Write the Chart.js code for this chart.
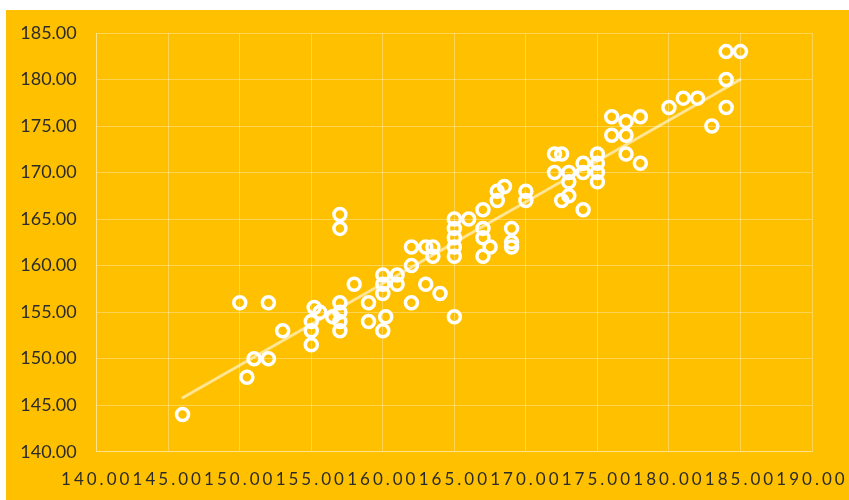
<!DOCTYPE html>
<html>
<head>
<meta charset="utf-8">
<script src="https://cdn.jsdelivr.net/npm/chart.js@4/dist/chart.umd.min.js"></script>
<style>
  html, body { margin: 0; padding: 0; background: #ffffff; }
  #wrap { position: absolute; left: 6px; top: 10px; width: 843px; height: 490px; background: #FFC000; }
  canvas { display: block; }
</style>
</head>
<body>
<div id="wrap"><canvas id="c" width="843" height="490"></canvas></div>
<script>
// Tick labels (axis ranges)
const xTicks = [140, 145, 150, 155, 160, 165, 170, 175, 180, 185, 190];
const yTicks = [140, 145, 150, 155, 160, 165, 170, 175, 180, 185];

// Scatter series: x values
const xValues = [
  146, 150, 150.5, 151, 152, 152, 153,
  155, 155, 155, 155.2, 155.6, 156.5,
  157, 157, 157, 157, 157, 157, 158,
  159, 159, 160, 160, 160, 160.2, 160,
  161, 161, 162, 162, 162, 163, 163.5, 163.5, 163, 164,
  165, 165, 165, 165, 165, 165, 166,
  167, 167, 167, 167, 167.5, 168, 168, 168.5,
  169, 169, 169, 170, 170,
  172, 172.5, 172, 172.5, 173, 173, 173,
  174, 174, 174, 175, 175, 175, 175,
  176, 176, 177, 177, 177, 178, 178,
  180, 181, 182, 183, 184, 184, 184, 185
];
// Scatter series: y values
const yValues = [
  144, 156, 148, 150, 156, 150, 153,
  151.5, 153, 154, 155.5, 155, 154.5,
  156, 155, 154, 153, 165.5, 164, 158,
  156, 154, 159, 158, 157, 154.5, 153,
  159, 158, 162, 160, 156, 162, 162, 161, 158, 157,
  165, 164, 163, 162, 161, 154.5, 165,
  166, 164, 163, 161, 162, 168, 167, 168.5,
  164, 162.5, 162, 168, 167,
  172, 172, 170, 167, 170, 169, 167.5,
  171, 170, 166, 172, 171, 170, 169,
  176, 174, 175.5, 174, 172, 176, 171,
  177, 178, 178, 175, 177, 180, 183, 183
];
// Trend line end points
const trendX = [145.95, 185.05];
const trendY = [145.75, 180.05];

const points = xValues.map((x, i) => ({ x: x, y: yValues[i] }));
const trend = trendX.map((x, i) => ({ x: x, y: trendY[i] }));

const gridColor = 'rgba(255,255,255,0.32)';
const labelColor = '#2b2b2b';
const fontFamily = 'Lato, "Open Sans", "Liberation Sans", sans-serif';

const xLetterSpacing = {
  id: 'xLetterSpacing',
  afterLayout(chart) {
    const s = chart.scales.x;
    if (s && !s.__patched) {
      const orig = s.drawLabels;
      s.drawLabels = function (area) {
        const ctx = this.ctx;
        ctx.save();
        ctx.letterSpacing = '3px';
        orig.call(this, area);
        ctx.restore();
      };
      s.__patched = true;
    }
  }
};

new Chart(document.getElementById('c'), {
  type: 'scatter',
  data: {
    datasets: [
      {
        type: 'line',
        data: trend,
        borderColor: 'rgba(255,255,255,0.58)',
        borderWidth: 3,
        pointRadius: 0,
        fill: false,
        order: 2
      },
      {
        data: points,
        pointRadius: 6,
        pointHoverRadius: 6,
        borderColor: '#ffffff',
        borderWidth: 3.5,
        backgroundColor: 'rgba(0,0,0,0)',
        order: 1
      }
    ]
  },
  options: {
    responsive: false,
    animation: false,
    devicePixelRatio: 1,
    layout: { padding: { top: 23, right: 37, left: 0, bottom: 0 } },
    plugins: { legend: { display: false }, tooltip: { enabled: false } },
    scales: {
      x: {
        type: 'linear',
        min: xTicks[0],
        max: xTicks[xTicks.length - 1],
        afterBuildTicks: (s) => { s.ticks = xTicks.map(v => ({ value: v })); },
        afterFit: (s) => { s.height = 48.3; s.paddingLeft = 0; s.paddingRight = 0; s.paddingTop = 0; s.paddingBottom = 0; },
        grid: { color: gridColor, drawTicks: false, lineWidth: 1 },
        border: { color: gridColor },
        ticks: {
          color: labelColor,
          padding: 18,
          maxRotation: 0,
          autoSkip: false,
          font: { family: fontFamily, size: 17 },
          callback: (v) => Number(v).toFixed(2)
        }
      },
      y: {
        type: 'linear',
        min: yTicks[0],
        max: yTicks[yTicks.length - 1],
        afterBuildTicks: (s) => { s.ticks = yTicks.map(v => ({ value: v })); },
        afterFit: (s) => { s.width = 90.7; s.paddingLeft = 0; s.paddingRight = 0; s.paddingTop = 0; s.paddingBottom = 0; },
        grid: { color: gridColor, drawTicks: false, lineWidth: 1 },
        border: { color: gridColor },
        ticks: {
          color: labelColor,
          padding: 20,
          autoSkip: false,
          font: { family: fontFamily, size: 18 },
          callback: (v) => Number(v).toFixed(2)
        }
      }
    }
  },
  plugins: [xLetterSpacing]
});
</script>
</body>
</html>
